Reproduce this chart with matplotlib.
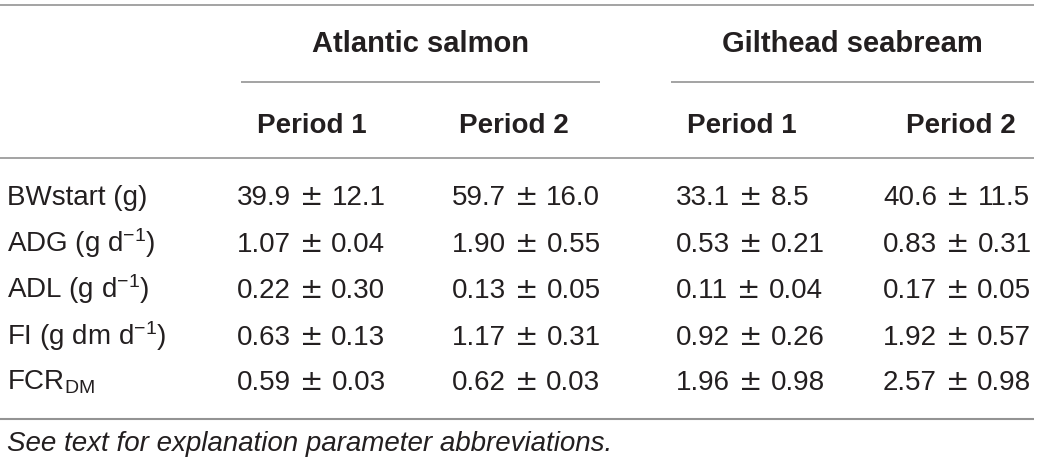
import matplotlib
matplotlib.use("Agg")
import matplotlib.pyplot as plt

plt.rcParams['font.family'] = ['Liberation Sans', 'DejaVu Sans']
plt.rcParams['mathtext.fontset'] = 'custom'
plt.rcParams['mathtext.rm'] = 'Liberation Sans'
plt.rcParams['mathtext.it'] = 'Liberation Sans:italic'
plt.rcParams['mathtext.bf'] = 'Liberation Sans:bold'

# ---- data ----
species = ["Atlantic salmon", "Gilthead seabream"]
periods = ["Period 1", "Period 2", "Period 1", "Period 2"]
params = ["BWstart (g)", r"ADG (g d$^{\mathrm{-1}}$)", r"ADL (g d$^{\mathrm{-1}}$)",
          r"FI (g dm d$^{\mathrm{-1}}$)", r"FCR$_{\mathrm{DM}}$"]
decimals = [1, 2, 2, 2, 2]
salmon_p1_mean = [39.9, 1.07, 0.22, 0.63, 0.59]
salmon_p1_sd = [12.1, 0.04, 0.30, 0.13, 0.03]
salmon_p2_mean = [59.7, 1.90, 0.13, 1.17, 0.62]
salmon_p2_sd = [16.0, 0.55, 0.05, 0.31, 0.03]
bream_p1_mean = [33.1, 0.53, 0.11, 0.92, 1.96]
bream_p1_sd = [8.5, 0.21, 0.04, 0.26, 0.98]
bream_p2_mean = [40.6, 0.83, 0.17, 1.92, 2.57]
bream_p2_sd = [11.5, 0.31, 0.05, 0.57, 0.98]
footnote = "See text for explanation parameter abbreviations."

means = [salmon_p1_mean, salmon_p2_mean, bream_p1_mean, bream_p2_mean]
sds = [salmon_p1_sd, salmon_p2_sd, bream_p1_sd, bream_p2_sd]

# ---- layout ----
W, H = 1040, 467
fig = plt.figure(figsize=(W / 100, H / 100), dpi=100)
ax = fig.add_axes([0, 0, 1, 1])
ax.set_xlim(0, W)
ax.set_ylim(H, 0)
ax.axis('off')

txt = '#231f20'
line_c = '#939393'
fs = 20

# horizontal rules
ax.plot([0, 1034], [5, 5], color=line_c, lw=1.2, solid_capstyle='butt')
ax.plot([241, 600], [82, 82], color=line_c, lw=1.2, solid_capstyle='butt')
ax.plot([671, 1034], [82, 82], color=line_c, lw=1.2, solid_capstyle='butt')
ax.plot([0, 1034], [158, 158], color=line_c, lw=1.2, solid_capstyle='butt')
ax.plot([0, 1034], [419, 419], color=line_c, lw=1.5, solid_capstyle='butt')

species_x = [420, 852]
for s, x in zip(species, species_x):
    ax.text(x, 52, s, ha='center', va='baseline', fontsize=21, fontweight='bold', color=txt)

period_x = [312, 514, 742, 961]
for p, x in zip(periods, period_x):
    ax.text(x, 133, p, ha='center', va='baseline', fontsize=fs, fontweight='bold', color=txt)

col_x = [237, 452, 676, 883]
row_y = [205, 252, 298, 345, 390]
for i, (name, d) in enumerate(zip(params, decimals)):
    ax.text(7, row_y[i], name, ha='left', va='baseline', fontsize=fs, color=txt)
    for j in range(4):
        t1 = ax.text(col_x[j], row_y[i], f"{means[j][i]:.{d}f}", ha='left',
                     va='baseline', fontsize=fs, color=txt)
        t2 = ax.annotate("\u00b1", xy=(1, row_y[i]), xycoords=(t1, 'data'),
                         xytext=(9, 0), textcoords='offset pixels', ha='left',
                         va='baseline', fontsize=fs, family='DejaVu Sans', color=txt)
        ax.annotate(f"{sds[j][i]:.{d}f}", xy=(1, row_y[i]), xycoords=(t2, 'data'),
                    xytext=(8, 0), textcoords='offset pixels', ha='left',
                    va='baseline', fontsize=fs, color=txt)

ax.text(7, 451, footnote, ha='left', va='baseline', fontsize=fs, style='italic', color=txt)

fig.savefig('out.png', dpi=100)
